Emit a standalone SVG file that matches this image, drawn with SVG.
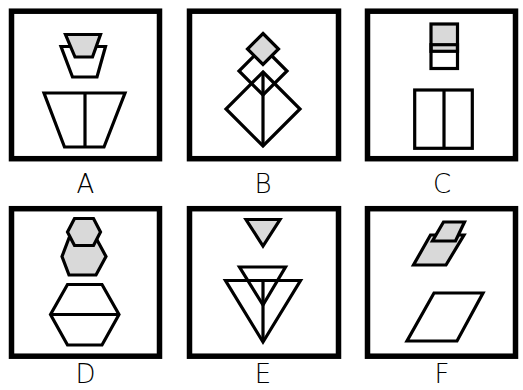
<svg xmlns="http://www.w3.org/2000/svg" width="523" height="390" viewBox="0 0 523 390">
<style>
.frame{fill:#fff;stroke:#000;stroke-width:5.5}
.s{fill:none;stroke:#000;stroke-width:3.2;stroke-linejoin:miter}
.g{fill:#d9d9d9;stroke:#000;stroke-width:3.2}
.w{fill:#fff;stroke:#000;stroke-width:3.2}
.lbl{font-family:"DejaVu Sans ExtraLight","DejaVu Sans",sans-serif;font-weight:200;font-size:26px;fill:#000;text-anchor:middle}
</style>
<rect width="523" height="390" fill="#fff"/>
<g id="panelA">
<rect class="frame" x="11.5" y="11.2" width="148" height="147.5"/>
<polygon class="w" points="61,46.5 105.5,46.5 97,77 72.5,77"/>
<polygon class="g" points="65.5,34.5 100.5,34.5 92.5,57 75,57"/>
<polygon class="s" points="44,93 125,93 104,147 64.5,147"/>
<line class="s" x1="85" y1="93" x2="85" y2="147"/>
<text class="lbl" x="85.5" y="192.5">A</text>
</g>
<g id="panelB">
<rect class="frame" x="189.5" y="11.2" width="149" height="147.5"/>
<polygon class="s" points="263,47 287,71 263,95 239,71"/>
<polygon class="s" points="263,72 300,109 263,146 226,109"/>
<polygon class="g" points="263,33.5 278.5,49 263,64.5 247.5,49"/>
<line class="s" x1="263" y1="72" x2="263" y2="146"/>
<text class="lbl" x="263" y="192.5">B</text>
</g>
<g id="panelC">
<rect class="frame" x="367.5" y="11.2" width="148" height="147.5"/>
<rect class="g" x="431" y="24" width="26.5" height="27.3"/>
<rect class="s" x="431" y="44.7" width="26.5" height="23.8"/>
<rect class="s" x="414.7" y="90" width="57.6" height="58.3"/>
<line class="s" x1="444" y1="90" x2="444" y2="148.3"/>
<text class="lbl" x="442" y="192.5">C</text>
</g>
<g id="panelD">
<rect class="frame" x="11.5" y="208.7" width="148" height="147.5"/>
<polygon class="g" points="62,256.5 69,238 96,238 106,256.5 96,275 69,275"/>
<polygon class="g" points="67.5,232 74.5,218.5 93.5,218.5 100.5,232 93.5,245.5 74.5,245.5"/>
<polygon class="s" points="50.5,314.5 67.5,284.5 102,284.5 119,314.5 102,345 67.5,345"/>
<line class="s" x1="50.5" y1="314.5" x2="119" y2="314.5"/>
<text class="lbl" x="85.5" y="383">D</text>
</g>
<g id="panelE">
<rect class="frame" x="189.5" y="208.7" width="149" height="147.5"/>
<polygon class="g" points="246,219.5 280,219.5 263,246"/>
<polygon class="s" points="239.5,267 285.5,267 263,305"/>
<polygon class="s" points="225.5,280.5 300.5,280.5 263,342"/>
<line class="s" x1="263" y1="280.5" x2="263" y2="342"/>
<text class="lbl" x="263" y="383">E</text>
</g>
<g id="panelF">
<rect class="frame" x="367.5" y="208.7" width="148" height="147.5"/>
<polygon class="g" points="430.5,235 464,235 446,265 413.5,265"/>
<polygon class="g" points="443.5,222 464.5,222 455.5,241 432.5,241"/>
<polygon class="s" points="434,293 483,293 457,341 407,341"/>
<text class="lbl" x="442" y="383">F</text>
</g>
</svg>
